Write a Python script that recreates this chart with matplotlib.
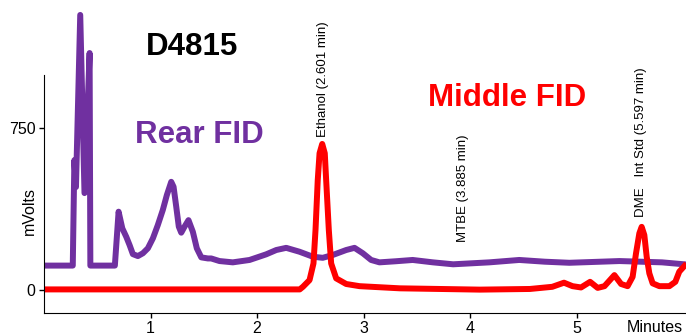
import numpy as np
import matplotlib
matplotlib.use('Agg')
import matplotlib.pyplot as plt

plt.rcParams['font.family'] = ['Liberation Sans', 'DejaVu Sans']

# Rear FID trace (min, mV)
rear_t = [0.00, 0.27, 0.285, 0.30, 0.34, 0.38, 0.428, 0.435, 0.665, 0.700,
          0.735, 0.772, 0.803, 0.834, 0.881, 0.928, 0.975, 1.022, 1.068, 1.115,
          1.153, 1.194, 1.216, 1.241, 1.265, 1.288, 1.319, 1.356, 1.397, 1.434,
          1.476, 1.538, 1.569, 1.647, 1.772, 1.929, 2.085, 2.18, 2.273, 2.398,
          2.523, 2.616, 2.710, 2.836, 2.914, 2.992, 3.070, 3.148, 3.30, 3.46,
          3.65, 3.84, 4.18, 4.46, 4.70, 4.93, 5.40, 5.80, 6.03]
rear_mv = [113, 113, 600, 476, 1271, 448, 1095, 113, 113, 362,
           285, 246, 208, 166, 157, 170, 193, 239, 300, 370,
           439, 500, 477, 385, 293, 265, 293, 323, 269, 193,
           151, 146, 146, 134, 128, 139, 165, 185, 195, 177,
           154, 149, 162, 185, 195, 170, 139, 128, 133, 139,
           128, 119, 128, 139, 131, 126, 134, 128, 118]

# Middle FID trace (min, mV)
mid_t = [0.00, 2.40, 2.43, 2.492, 2.529, 2.548, 2.569, 2.586, 2.611, 2.635,
         2.648, 2.673, 2.695, 2.742, 2.836, 2.961, 3.34, 4.09, 4.56, 4.77,
         4.88, 4.96, 5.04, 5.125, 5.196, 5.26, 5.353, 5.416, 5.477, 5.524,
         5.556, 5.587, 5.609, 5.634, 5.656, 5.681, 5.712, 5.775, 5.869, 5.925,
         5.962, 6.03]
mid_mv = [3, 3, 15, 46, 123, 277, 508, 632, 675, 632,
          508, 277, 123, 54, 28, 18, 8, 2, 5, 15,
          34, 18, 12, 38, 10, 18, 69, 28, 18, 61,
          170, 262, 292, 254, 154, 77, 31, 18, 18, 38,
          85, 122]

peak_labels = ['Ethanol (2.601 min)', 'MTBE (3.885 min)', 'DME   Int Std (5.597 min)']
label_t = [2.617, 3.936, 5.606]
label_mv = [707, 222, 337]

purple = '#7030A0'
red = '#FF0000'

fig = plt.figure(figsize=(6.86, 3.33), dpi=100)
ax = fig.add_axes([44 / 686, 20 / 333, 1 - 44 / 686, 1 - 20 / 333])

ax.plot(rear_t, rear_mv, color=purple, lw=4.3, solid_joinstyle='round', solid_capstyle='butt')
ax.plot(mid_t, mid_mv, color=red, lw=4.3, solid_joinstyle='round', solid_capstyle='butt')

ax.set_xlim(0, 6.025)
ax.set_ylim(-106, 1340)
ax.set_xticks([1, 2, 3, 4, 5])
ax.set_yticks([0, 750])
ax.tick_params(direction='out', length=3.6, width=1, labelsize=11.5, pad=2.5)

ax.spines['top'].set_visible(False)
ax.spines['right'].set_visible(False)
ax.spines['left'].set_bounds(-106, 993)
ax.spines['bottom'].set_bounds(0, 6.025)

for txt, t, mv in zip(peak_labels, label_t, label_mv):
    ax.text(t, mv, txt, rotation=90, ha='center', va='bottom', fontsize=9.5)

ax.text(1.394, 1086, 'D4815', fontsize=22.5, fontweight='bold', ha='center', va='baseline')
ax.text(1.46, 679, 'Rear FID', fontsize=22.5, fontweight='bold', color=purple,
        ha='center', va='baseline')
ax.text(4.349, 850, 'Middle FID', fontsize=22.5, fontweight='bold', color=red,
        ha='center', va='baseline')

fig.text(29 / 686, 1 - 211 / 333, 'mVolts', rotation=90, ha='center', va='center', fontsize=11.5)
fig.text(683 / 686, 1 - 320 / 333, 'Minutes', ha='right', va='top', fontsize=11.5)

fig.savefig('out.png', dpi=100)
